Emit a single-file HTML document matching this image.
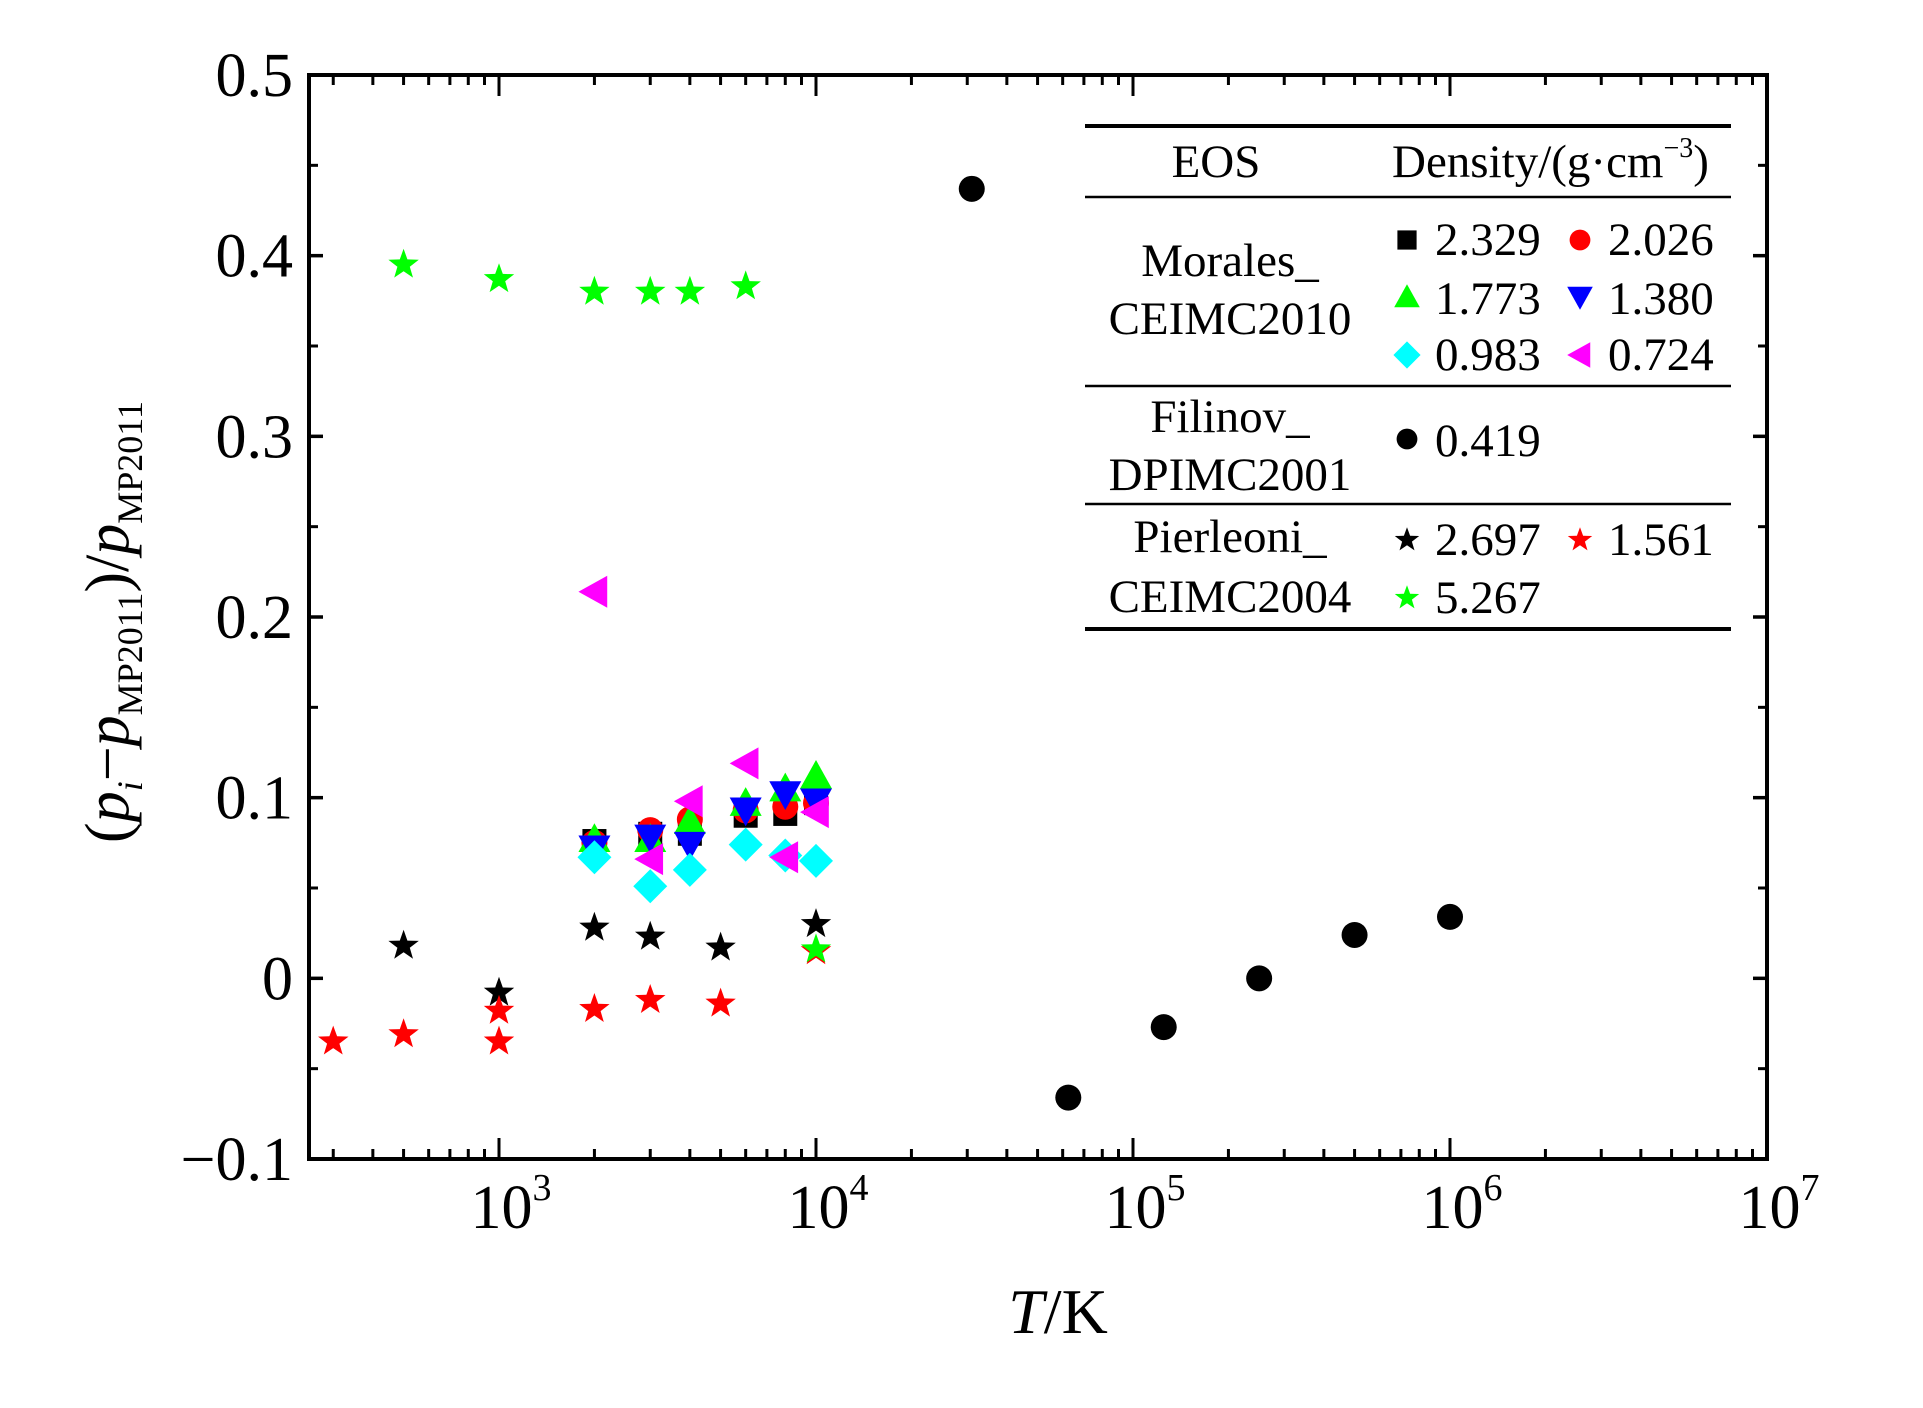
<!DOCTYPE html>
<html><head><meta charset="utf-8"><style>
html,body{margin:0;padding:0;background:#fff}
svg text{font-family:"Liberation Serif",serif;fill:#000}
</style></head><body>
<svg id="chart" width="1923" height="1403" xmlns="http://www.w3.org/2000/svg">
<rect x="0" y="0" width="1923" height="1403" fill="#fff"/>
<g id="marks"></g>
<g id="axes"></g>
<g id="legend"></g>
<text x="1058" y="1333" font-size="64" text-anchor="middle"><tspan font-style="italic">T</tspan>/K</text>
<text transform="translate(128,622) rotate(-90)" font-size="62" text-anchor="middle">(<tspan font-style="italic">p</tspan><tspan font-style="italic" font-size="36" dy="14">i</tspan><tspan dy="-14">−</tspan><tspan font-style="italic">p</tspan><tspan font-size="36" dy="14">MP2011</tspan><tspan dy="-14">)/</tspan><tspan font-style="italic">p</tspan><tspan font-size="36" dy="14">MP2011</tspan></text>
</svg>
<script>
const moralesT = [2000, 3000, 4000, 6000, 8000, 10000];
const sq2329 = [0.076, 0.080, 0.080, 0.090, 0.091, 0.097];
const ci2026 = [0.075, 0.082, 0.088, 0.093, 0.095, 0.097];
const tu1773 = [0.077, 0.077, 0.087, 0.097, 0.105, 0.112];
const td1380 = [0.072, 0.078, 0.074, 0.093, 0.102, 0.098];
const di0983 = [0.067, 0.051, 0.060, 0.074, 0.068, 0.065];
const tl0724 = [0.214, 0.066, 0.098, 0.119, 0.067, 0.092];
const filT = [31000, 62500, 125000, 250000, 500000, 1000000];
const fil0419 = [0.437, -0.066, -0.027, 0.000, 0.024, 0.034];
const blkT = [500, 1000, 2000, 3000, 5000, 10000];
const st2697 = [0.018, -0.008, 0.028, 0.023, 0.017, 0.030];
const redT = [300, 500, 1000, 1000, 2000, 3000, 5000, 10000];
const st1561 = [-0.035, -0.031, -0.018, -0.035, -0.017, -0.012, -0.014, 0.015];
const grnT = [500, 1000, 2000, 3000, 4000, 6000, 10000];
const st5267 = [0.395, 0.387, 0.380, 0.380, 0.380, 0.383, 0.016];
const yTicks = [-0.1, 0, 0.1, 0.2, 0.3, 0.4, 0.5];
const yTickLabels = ["\u22120.1", "0", "0.1", "0.2", "0.3", "0.4", "0.5"];
const xDecades = [3, 4, 5, 6, 7];

const NS = "http://www.w3.org/2000/svg";
const L = 309, R = 1767, T = 75, B = 1159;
const xMin = Math.log10(1000) - (499 - L) / 317, xMax = 7;
function xs(v){ return L + (Math.log10(v) - xMin) / (xMax - xMin) * (R - L); }
function ys(v){ return B - (v + 0.1) / 0.6 * (B - T); }
function mk(tag, attrs, parent){ const e = document.createElementNS(NS, tag); for (const k in attrs) e.setAttribute(k, attrs[k]); parent.appendChild(e); return e; }

function shape(kind, cx, cy, color, parent, s){
  s = s || 1; let e;
  if (kind === 'square') { const h = 12*s; e = mk('rect', {x:cx-h, y:cy-h, width:2*h, height:2*h, fill:color}, parent); }
  else if (kind === 'circle') { e = mk('circle', {cx:cx, cy:cy, r:13*s, fill:color}, parent); }
  else if (kind === 'tup') { const h=16*s; e = mk('polygon', {points:`${cx},${cy-h} ${cx+h},${cy+h*0.8} ${cx-h},${cy+h*0.8}`, fill:color}, parent); }
  else if (kind === 'tdown') { const h=16*s; e = mk('polygon', {points:`${cx},${cy+h} ${cx+h},${cy-h*0.8} ${cx-h},${cy-h*0.8}`, fill:color}, parent); }
  else if (kind === 'tleft') { const h=16*s; e = mk('polygon', {points:`${cx-h},${cy} ${cx+h*0.8},${cy-h} ${cx+h*0.8},${cy+h}`, fill:color}, parent); }
  else if (kind === 'diamond') { const h=17*s; e = mk('polygon', {points:`${cx},${cy-h} ${cx+h},${cy} ${cx},${cy+h} ${cx-h},${cy}`, fill:color}, parent); }
  else if (kind === 'star') { const ro=16*s, ri=6.5*s; let p=[]; for(let i=0;i<10;i++){ const a=-Math.PI/2+i*Math.PI/5; const r=i%2?ri:ro; p.push((cx+r*Math.cos(a)).toFixed(1)+','+(cy+r*Math.sin(a)).toFixed(1)); } e = mk('polygon', {points:p.join(' '), fill:color}, parent); }
  return e;
}

const marks = document.getElementById('marks');
function series(name, xsArr, ysArr, kind, color){
  const g = mk('g', {}, marks);
  
  
  for (let i=0;i<ysArr.length;i++){
    const e = shape(kind, xs(xsArr[i]), ys(ysArr[i]), color, g);
    
    
  }
}
series('series-filinov-0419', filT, fil0419, 'circle', '#000');
series('series-pierleoni-2697', blkT, st2697, 'star', '#000');
series('series-pierleoni-1561', redT, st1561, 'star', '#ff0000');
series('series-pierleoni-5267', grnT, st5267, 'star', '#00ff00');
series('series-morales-2329', moralesT, sq2329, 'square', '#000');
series('series-morales-2026', moralesT, ci2026, 'circle', '#ff0000');
series('series-morales-1773', moralesT, tu1773, 'tup', '#00ff00');
series('series-morales-1380', moralesT, td1380, 'tdown', '#0000ff');
series('series-morales-0983', moralesT, di0983, 'diamond', '#00ffff');
series('series-morales-0724', moralesT, tl0724, 'tleft', '#ff00ff');

const ax = document.getElementById('axes');
const frame = mk('rect', {x:L, y:T, width:R-L, height:B-T, fill:'none', stroke:'#000', 'stroke-width':4}, ax);


for (let i=0;i<yTicks.length;i++){
  const y = ys(yTicks[i]);
  mk('line', {x1:L, x2:L+14, y1:y, y2:y, stroke:'#000', 'stroke-width':3.5}, ax);
  mk('line', {x1:R, x2:R-14, y1:y, y2:y, stroke:'#000', 'stroke-width':3.5}, ax);
  if (i < yTicks.length-1) {
    const ym = ys(yTicks[i]+0.05);
    mk('line', {x1:L, x2:L+9, y1:ym, y2:ym, stroke:'#000', 'stroke-width':3}, ax);
    mk('line', {x1:R, x2:R-9, y1:ym, y2:ym, stroke:'#000', 'stroke-width':3}, ax);
  }
  const t = mk('text', {x:293, y:y+21, 'font-size':62, 'text-anchor':'end'}, ax);
  t.textContent = yTickLabels[i];
  
  
}
for (let d=2; d<7; d++){
  for (let m=1; m<10; m++){
    const v = m*Math.pow(10,d);
    const x = xs(v);
    if (x < L+1 || x > R-1) continue;
    const len = m===1 ? 21 : 10;
    mk('line', {x1:x, x2:x, y1:B, y2:B-len, stroke:'#000', 'stroke-width':3}, ax);
    mk('line', {x1:x, x2:x, y1:T, y2:T+len, stroke:'#000', 'stroke-width':3}, ax);
  }
}
for (const d of xDecades){
  const x = xs(Math.pow(10,d));
  const t = mk('text', {x:x+12, y:1228, 'font-size':62, 'text-anchor':'middle'}, ax);
  
  
  const a = document.createElementNS(NS,'tspan'); a.textContent='10'; t.appendChild(a);
  const b = document.createElementNS(NS,'tspan'); b.setAttribute('font-size','38'); b.setAttribute('dy','-28'); b.textContent=String(d); t.appendChild(b);
}

const lg = document.getElementById('legend');
[[126,4],[197,2.5],[386,2.5],[504,2.5],[629,4]].forEach(([y,w])=>{
  mk('line', {x1:1085, x2:1731, y1:y, y2:y, stroke:'#000', 'stroke-width':w}, lg);
});
function ltext(txt, x, y, anchor, name){
  const t = mk('text', {x:x, y:y, 'font-size':47, 'text-anchor':anchor||'start'}, lg);
  t.textContent = txt;
  
  
  return t;
}
ltext('EOS', 1216, 177, 'middle', 'legend-header-eos');
const dh = ltext('Density/(g\u00b7cm', 1392, 177, 'start', 'legend-header-density');
const sup = document.createElementNS(NS,'tspan'); sup.setAttribute('font-size','28'); sup.setAttribute('dy','-20'); sup.textContent='\u22123'; dh.appendChild(sup);
const cl = document.createElementNS(NS,'tspan'); cl.setAttribute('dy','20'); cl.textContent=')'; dh.appendChild(cl);
ltext('Morales_', 1230, 276, 'middle', 'legend-group-morales');
ltext('CEIMC2010', 1230, 334, 'middle', 'legend-group-morales-2');
ltext('Filinov_', 1230, 432, 'middle', 'legend-group-filinov');
ltext('DPIMC2001', 1230, 490, 'middle', 'legend-group-filinov-2');
ltext('Pierleoni_', 1230, 552, 'middle', 'legend-group-pierleoni');
ltext('CEIMC2004', 1230, 612, 'middle', 'legend-group-pierleoni-2');
const entries = [
  ['square','#000',1407,240,'2.329',1435,255],
  ['circle','#ff0000',1580,240,'2.026',1608,255],
  ['tup','#00ff00',1407,297,'1.773',1435,314],
  ['tdown','#0000ff',1580,297,'1.380',1608,314],
  ['diamond','#00ffff',1407,355,'0.983',1435,370],
  ['tleft','#ff00ff',1580,355,'0.724',1608,370],
  ['circle','#000',1407,439,'0.419',1435,456],
  ['star','#000',1407,540,'2.697',1435,555],
  ['star','#ff0000',1580,540,'1.561',1608,555],
  ['star','#00ff00',1407,598,'5.267',1435,613]
];
entries.forEach(e=>{
  const m = shape(e[0], e[2], e[3], e[1], lg, 0.8);
  
  
  ltext(e[4], e[5], e[6], 'start', 'legend-entry');
});
</script>
</body></html>
